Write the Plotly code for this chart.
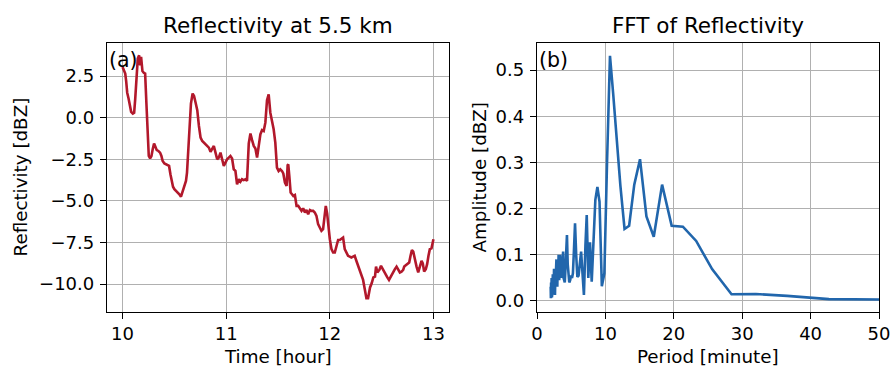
import plotly.graph_objects as go

# ---- Data ----
time_hour = [
    10.000, 10.013, 10.026, 10.035, 10.045, 10.058, 10.070, 10.083, 10.099, 10.112,
    10.122, 10.134, 10.147, 10.160, 10.170, 10.179, 10.192, 10.205, 10.218, 10.230,
    10.240, 10.253, 10.266, 10.279, 10.291, 10.304, 10.317, 10.330, 10.346, 10.362,
    10.375, 10.387, 10.404, 10.420, 10.436, 10.449, 10.462, 10.474, 10.487, 10.500,
    10.516, 10.532, 10.548, 10.564, 10.580, 10.596, 10.612, 10.622, 10.635, 10.647,
    10.660, 10.676, 10.690, 10.705, 10.721, 10.737, 10.753, 10.769, 10.785, 10.801,
    10.817, 10.833, 10.849, 10.865, 10.881, 10.897, 10.913, 10.929, 10.945, 10.961,
    10.977, 10.993, 11.009, 11.025, 11.041, 11.057, 11.073, 11.089, 11.105, 11.121,
    11.137, 11.153, 11.169, 11.185, 11.201, 11.218, 11.234, 11.250, 11.266, 11.282,
    11.298, 11.314, 11.330, 11.346, 11.362, 11.378, 11.394, 11.410, 11.426, 11.442,
    11.458, 11.474, 11.490, 11.506, 11.522, 11.538, 11.551, 11.567, 11.583, 11.593,
    11.599, 11.609, 11.622, 11.635, 11.647, 11.663, 11.679, 11.695, 11.711, 11.727,
    11.743, 11.760, 11.775, 11.791, 11.808, 11.823, 11.839, 11.855, 11.871, 11.887,
    11.903, 11.919, 11.935, 11.951, 11.961, 11.974, 11.984, 12.000, 12.016, 12.032,
    12.048, 12.064, 12.080, 12.096, 12.112, 12.128, 12.144, 12.160, 12.176, 12.192,
    12.208, 12.224, 12.240, 12.256, 12.272, 12.289, 12.305, 12.321, 12.337, 12.353,
    12.369, 12.388, 12.404, 12.420, 12.436, 12.446, 12.459, 12.478, 12.494, 12.510,
    12.532, 12.555, 12.571, 12.590, 12.612, 12.628, 12.644, 12.660, 12.676, 12.692,
    12.708, 12.718, 12.741, 12.766, 12.779, 12.792, 12.805, 12.821, 12.837, 12.853,
    12.869, 12.885, 12.897, 12.910, 12.926, 12.939, 12.952, 12.965, 12.981, 12.991,
    13.000,
]
reflectivity_dbz = [
    3.05, 2.80, 2.65, 2.20, 1.50, 1.15, 0.70, 0.35, 0.25, 0.30,
    1.10, 2.65, 3.55, 3.75, 3.15, 3.65, 2.80, 2.70, 2.65, 0.90,
    -0.90, -2.30, -2.45, -2.30, -1.90, -1.55, -1.75, -1.95, -2.00, -2.10,
    -2.30, -2.60, -2.75, -2.80, -2.85, -2.90, -3.40, -3.90, -4.15, -4.30,
    -4.40, -4.45, -4.60, -4.75, -4.40, -4.00, -3.80, -3.30, -1.90, -0.35,
    0.85, 1.45, 1.30, 0.90, 0.45, -0.50, -1.20, -1.40, -1.50, -1.60,
    -1.65, -1.80, -2.05, -1.85, -1.70, -2.10, -2.50, -2.40, -2.10, -2.50,
    -2.90, -2.70, -2.50, -2.40, -2.30, -2.45, -3.10, -3.20, -4.00, -3.70,
    -3.85, -3.70, -3.75, -3.70, -3.80, -1.55, -0.95, -1.35, -1.70, -1.85,
    -2.40, -1.70, -1.00, -0.75, -0.80, -0.30, 1.05, 1.40, 0.30, -0.20,
    -0.70, -1.50, -3.00, -3.20, -3.10, -3.20, -3.35, -3.90, -4.10, -2.85,
    -2.80, -3.50, -4.50, -4.60, -4.70, -4.65, -5.30, -5.30, -5.50, -5.60,
    -5.45, -5.70, -5.55, -5.80, -5.55, -5.60, -5.60, -5.70, -5.90, -6.40,
    -6.60, -6.80, -6.70, -5.85, -5.30, -5.75, -6.40, -7.30, -7.90, -8.10,
    -8.10, -7.75, -7.35, -7.35, -7.30, -7.20, -7.90, -8.10, -8.30, -8.35,
    -8.40, -8.35, -8.30, -8.60, -8.90, -9.20, -9.50, -9.75, -10.30, -10.85,
    -10.85, -10.20, -9.95, -9.60, -9.55, -8.95, -9.30, -9.15, -8.90, -9.10,
    -9.30, -9.60, -9.75, -9.50, -9.25, -9.10, -8.95, -9.10, -9.30, -9.25,
    -9.15, -8.95, -8.85, -8.70, -8.30, -7.95, -8.05, -8.55, -8.95, -9.30,
    -8.90, -8.60, -8.75, -9.25, -9.10, -8.80, -8.30, -7.90, -7.85, -7.55,
    -7.30,
]

period_minute = [
    2.00, 2.03, 2.06, 2.10, 2.14, 2.18, 2.22, 2.27, 2.31, 2.35,
    2.39, 2.44, 2.49, 2.54, 2.58, 2.63, 2.69, 2.73, 2.78, 2.84,
    2.90, 2.97, 3.03, 3.10, 3.16, 3.24, 3.32, 3.37, 3.46, 3.55,
    3.64, 3.72, 3.82, 3.88, 3.96, 4.06, 4.16, 4.27, 4.38, 4.49,
    4.60, 4.72, 4.85, 4.98, 5.12, 5.25, 5.40, 5.56, 5.73, 5.90,
    6.08, 6.27, 6.45, 6.65, 6.86, 7.08, 7.27, 7.50, 7.75, 8.00,
    8.26, 8.53, 8.83, 9.14, 9.48, 9.85, 10.24, 10.67, 11.13, 11.64,
    12.19, 12.80, 13.47, 14.22, 15.06, 16.00, 17.07, 18.29, 19.69, 21.33,
    23.27, 25.60, 28.44, 32.00, 36.57, 42.67, 51.20,
]
amplitude_dbz = [
    0.031, 0.006, 0.040, 0.010, 0.050, 0.008, 0.045, 0.020, 0.058, 0.015,
    0.052, 0.020, 0.070, 0.030, 0.065, 0.013, 0.060, 0.064, 0.067, 0.090,
    0.040, 0.031, 0.085, 0.060, 0.100, 0.045, 0.060, 0.100, 0.075, 0.090,
    0.050, 0.085, 0.107, 0.050, 0.045, 0.040, 0.070, 0.120, 0.143, 0.080,
    0.045, 0.040, 0.045, 0.055, 0.050, 0.060, 0.110, 0.168, 0.100, 0.052,
    0.055, 0.080, 0.107, 0.060, 0.013, 0.120, 0.186, 0.050, 0.127, 0.042,
    0.150, 0.219, 0.247, 0.215, 0.032, 0.060, 0.300, 0.531, 0.450, 0.349,
    0.250, 0.156, 0.163, 0.252, 0.307, 0.183, 0.139, 0.252, 0.163, 0.161,
    0.130, 0.069, 0.0145, 0.015, 0.011, 0.004, 0.003,
]

left_xticks = [10, 11, 12, 13]
left_yticks = [-10.0, -7.5, -5.0, -2.5, 0.0, 2.5]
right_xticks = [0, 10, 20, 30, 40, 50]
right_yticks = [0.0, 0.1, 0.2, 0.3, 0.4, 0.5]

# ---- Figure ----
W, H = 892, 366
FONT = "DejaVu Sans"
RED = "#b2182b"
BLUE = "#2166ac"

fig = go.Figure()
fig.add_trace(go.Scatter(x=time_hour, y=reflectivity_dbz, mode="lines",
                         line=dict(color=RED, width=2.6), xaxis="x", yaxis="y",
                         showlegend=False))
fig.add_trace(go.Scatter(x=period_minute, y=amplitude_dbz, mode="lines",
                         line=dict(color=BLUE, width=2.6), xaxis="x2", yaxis="y2",
                         showlegend=False))

axis_common = dict(showline=True, linecolor="black", linewidth=1.3, mirror=True,
                   ticks="outside", ticklen=6, tickwidth=1.3, tickcolor="black",
                   showgrid=True, gridcolor="#b0b0b0", gridwidth=1.3,
                   zeroline=False, automargin=False,
                   tickfont=dict(family=FONT, size=18, color="black"))

ydom = [(H - 311.7) / H, (H - 43.3) / H]
fig.update_layout(
    template="none",
    width=W, height=H, margin=dict(l=0, r=0, t=0, b=0, pad=0),
    paper_bgcolor="white", plot_bgcolor="white", showlegend=False,
    font=dict(family=FONT, color="black"),
    xaxis=dict(domain=[107 / W, 449 / W], range=[9.85, 13.15],
               tickvals=left_xticks, tickformat="d", anchor="y", **axis_common),
    yaxis=dict(domain=ydom, range=[-11.66, 4.47], ticklabelstandoff=2,
               tickvals=left_yticks, tickformat=".1f", anchor="x", **axis_common),
    xaxis2=dict(domain=[537 / W, 879 / W], range=[0, 50],
                tickvals=right_xticks, tickformat="d", anchor="y2", **axis_common),
    yaxis2=dict(domain=ydom, range=[-0.0232, 0.558], ticklabelstandoff=2,
                tickvals=right_yticks, tickformat=".1f", anchor="x2", **axis_common),
)

def ann(text, x, y, size, xanchor="center", yanchor="middle", angle=0, xref="paper", yref="paper"):
    fig.add_annotation(text=text, x=x, y=y, xref=xref, yref=yref, showarrow=False,
                       xanchor=xanchor, yanchor=yanchor, textangle=angle,
                       font=dict(family=FONT, size=size, color="black"))

# panel titles
ann("Reflectivity at 5.5 km", 278 / W, (H - 26) / H, 21.5)
ann("FFT of Reflectivity", 708 / W, (H - 26) / H, 21.5)
# axis titles
ann("Time [hour]", 278 / W, (H - 356) / H, 18.3)
ann("Period [minute]", 708 / W, (H - 356) / H, 18.3)
ann("Reflectivity [dBZ]", 20 / W, (H - 177.5) / H, 18.3, angle=-90)
ann("Amplitude [dBZ]", 479 / W, (H - 177.5) / H, 18.3, angle=-90)
# panel labels
ann("(a)", 0.0, 0.99, 20.5, xanchor="left", yanchor="top", xref="x domain", yref="y domain")
ann("(b)", 0.0, 0.99, 20.5, xanchor="left", yanchor="top", xref="x2 domain", yref="y2 domain")

fig.write_html("out.html")
